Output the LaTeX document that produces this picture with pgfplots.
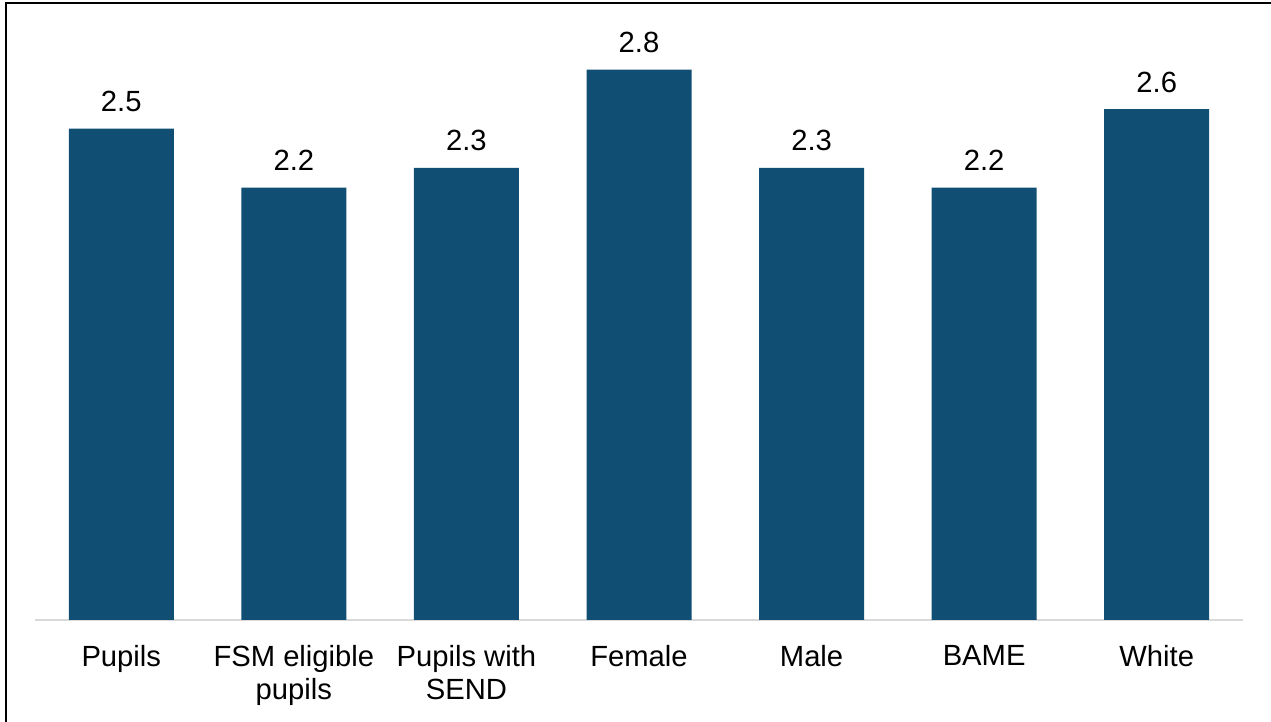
\documentclass[border=0pt]{standalone}
\usepackage{fontspec}
\setmainfont{Liberation Sans}
\usepackage{pgfplots}
\pgfplotsset{compat=1.18}
\definecolor{barblue}{RGB}{16,79,115}
\definecolor{axisgray}{RGB}{217,217,217}

\begin{document}
\begin{tikzpicture}
\begin{axis}[
  at={(17.5pt,51pt)}, anchor=south west,
  scale only axis,
  width=604pt, height=300pt,
  xmin=-0.5, xmax=6.5,
  ymin=0, ymax=3.053,
  axis x line*=bottom,
  axis y line=none,
  x axis line style={-, draw=axisgray, line width=1pt},
  xtick=data,
  xticklabels={Pupils, {FSM eligible\\pupils}, {Pupils with\\SEND}, Female, Male, BAME, White},
  major tick length=0pt,
  xtick style={draw=none},
  xticklabel style={align=center, anchor=north, inner sep=0pt, yshift=-12.5pt,
    font=\fontsize{14.6}{16.5}\selectfont},
  ybar, bar width=52.5pt,
  nodes near coords,
  nodes near coords style={anchor=base, inner sep=0pt, yshift=8.5pt,
    font=\fontsize{14.6}{16.5}\selectfont,
    /pgf/number format/.cd, fixed, fixed zerofill, precision=1, assume math mode=true},
  clip=false,
]
\addplot[fill=barblue, draw=none] coordinates {
  (0,2.5) (1,2.2) (2,2.3) (3,2.8) (4,2.3) (5,2.2) (6,2.6)
};
\end{axis}
% outer frame
\draw[line width=0.8pt] (3pt,0pt) -- (3pt,359.5pt) -- (640pt,359.5pt);
\pgfresetboundingbox
\useasboundingbox (0pt,0pt) rectangle (635.5pt,361pt);
\end{tikzpicture}
\end{document}
